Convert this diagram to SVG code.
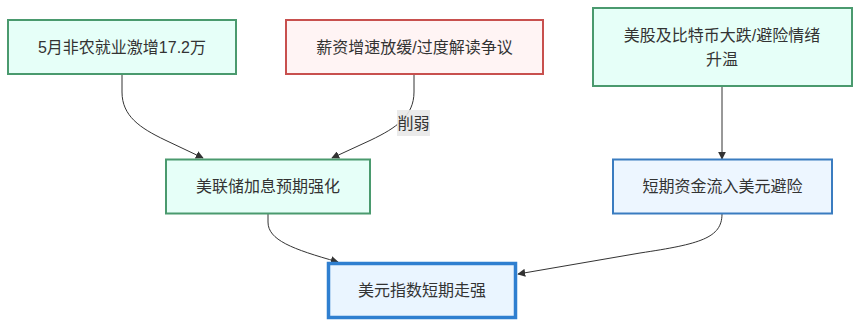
<svg xmlns="http://www.w3.org/2000/svg" width="861" height="326" viewBox="0 0 861 326">
<defs>
<style>
.node text{font-family:"Liberation Sans","Noto Sans CJK SC",sans-serif;font-size:16px;fill:#333;text-anchor:middle;dominant-baseline:central}
.g rect{fill:#e6fff8;stroke:#4a9a6e;stroke-width:2}
.r rect{fill:#fff4f4;stroke:#c8504e;stroke-width:2}
.b rect{fill:#edf6ff;stroke:#3a7cc0;stroke-width:2}
.bb rect{fill:#eaf5ff;stroke:#2f7fd0;stroke-width:3.5}
.edges path{fill:none;stroke:#333;stroke-width:1}
.lbl rect{fill:#e8e8e8;opacity:0.9}
.lbl text{font-family:"Liberation Sans","Noto Sans CJK SC",sans-serif;font-size:16px;fill:#333;text-anchor:middle;dominant-baseline:central}
</style>
<marker id="arr" viewBox="0 0 10 10" refX="9" refY="5" markerWidth="8" markerHeight="8" markerUnits="userSpaceOnUse" orient="auto">
<path d="M0,0 L10,5 L0,10 z" fill="#333"/>
</marker>
</defs>
<g class="edges">
<path d="M122,74 L122,92 C122,116 140,128 165,140 L203,158" marker-end="url(#arr)"/>
<path d="M414,74 L414,92 C414,116 396,128 371,140 L332,158" marker-end="url(#arr)"/>
<path d="M722,86 L722,159" marker-end="url(#arr)"/>
<path d="M268,214 L268,222 C268,240 292,249 338,262" marker-end="url(#arr)"/>
<path d="M722,214 C722,238 700,244 640,253 L518,274" marker-end="url(#arr)"/>
<g class="lbl">
<rect x="397" y="110" width="33" height="26"/>
<text x="413.5" y="123">削弱</text>
</g>
</g>
<g id="nodeA" class="node g">
<rect x="8" y="20" width="228" height="54"/>
<text x="122" y="47">5月非农就业激增17.2万</text>
</g>
<g id="nodeB" class="node r">
<rect x="286" y="20" width="257" height="54"/>
<text x="414.5" y="47">薪资增速放缓/过度解读争议</text>
</g>
<g id="nodeC" class="node g">
<rect x="593" y="8" width="259" height="78"/>
<text x="722" y="35">美股及比特币大跌/避险情绪</text>
<text x="722" y="59">升温</text>
</g>
<g id="nodeD" class="node g">
<rect x="166" y="159.5" width="204" height="54"/>
<text x="268" y="186.5">美联储加息预期强化</text>
</g>
<g id="nodeE" class="node b">
<rect x="613" y="159.5" width="219" height="54"/>
<text x="722.5" y="186.5">短期资金流入美元避险</text>
</g>
<g id="nodeF" class="node bb">
<rect x="328.5" y="263.5" width="187" height="54"/>
<text x="422" y="290.5">美元指数短期走强</text>
</g>
</svg>
